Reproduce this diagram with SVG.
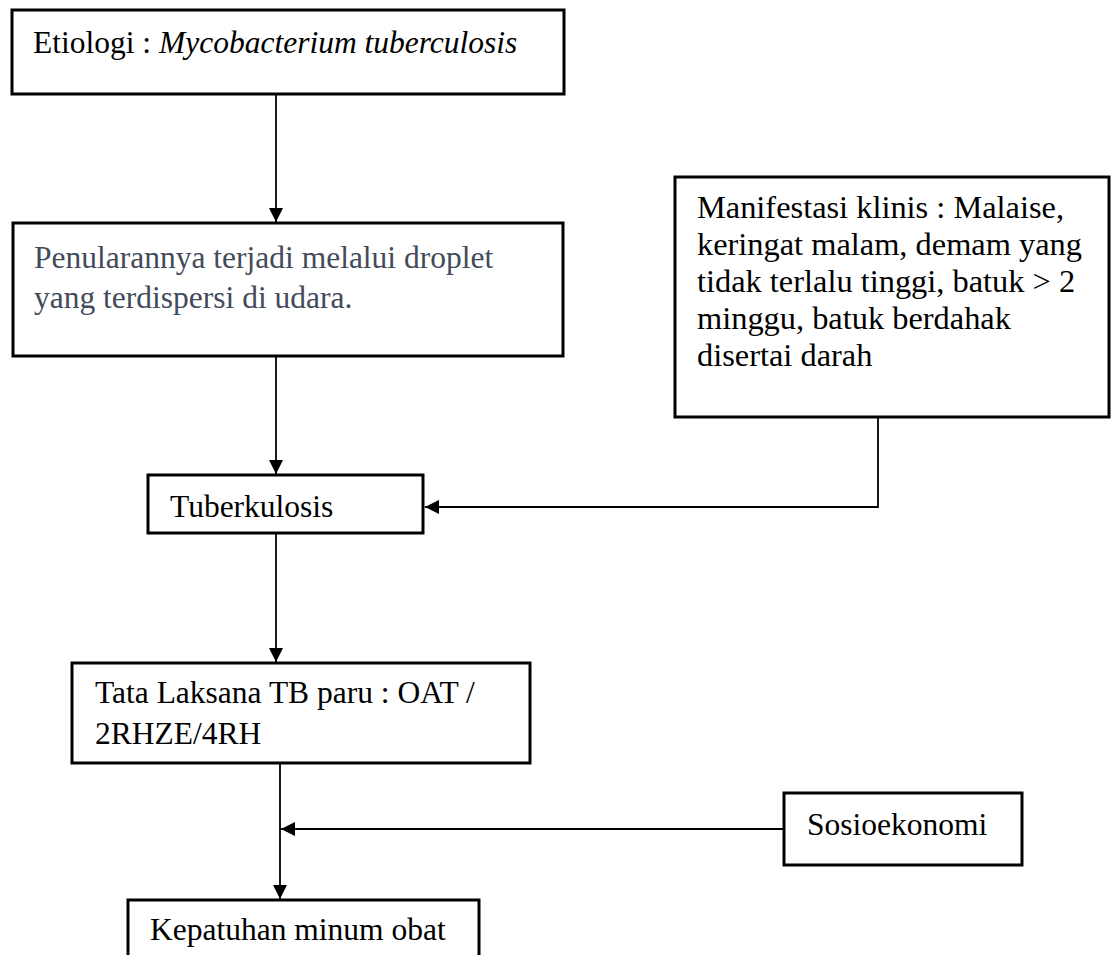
<svg xmlns="http://www.w3.org/2000/svg" width="1112" height="955" viewBox="0 0 1112 955">
<style>
.box{fill:#fff;stroke:#000;stroke-width:3}
.t{font-family:"Liberation Serif","Times New Roman",serif;font-size:31.5px;fill:#000}
.m{font-size:32.4px}
.slate{fill:#434b5b}
.c{fill:none;stroke:#000;stroke-width:1.8}
</style>
<defs>
<marker id="ah" markerWidth="14" markerHeight="14" viewBox="0 0 14 14" refX="14" refY="7" orient="auto" markerUnits="userSpaceOnUse">
<path d="M0,0 L14,7 L0,14 Z" fill="#000"/>
</marker>
</defs>
<rect width="1112" height="955" fill="#fff"/>
<g id="connectors">
<line class="c" x1="276" y1="94" x2="276" y2="222" marker-end="url(#ah)"/>
<line class="c" x1="276" y1="356" x2="276" y2="474" marker-end="url(#ah)"/>
<polyline class="c" points="878,417 878,507 425,507" marker-end="url(#ah)"/>
<line class="c" x1="276" y1="533" x2="276" y2="662" marker-end="url(#ah)"/>
<line class="c" x1="280" y1="763" x2="280" y2="899" marker-end="url(#ah)"/>
<line class="c" x1="784" y1="829" x2="281" y2="829" marker-end="url(#ah)"/>
</g>
<g id="etiologi">
<rect class="box" x="12" y="10" width="552" height="84"/>
<text class="t" x="33" y="53">Etiologi : <tspan font-style="italic">Mycobacterium tuberculosis</tspan></text>
</g>
<g id="penularan">
<rect class="box" x="13" y="223" width="550" height="133"/>
<text class="t slate" x="34" y="268">Penularannya terjadi melalui droplet</text>
<text class="t slate" x="34" y="308">yang terdispersi di udara.</text>
</g>
<g id="manifestasi">
<rect class="box" x="675" y="177" width="434" height="240"/>
<text class="t m" x="697" y="218">Manifestasi klinis : Malaise,</text>
<text class="t m" x="697" y="255">keringat malam, demam yang</text>
<text class="t m" x="697" y="292">tidak terlalu tinggi, batuk &gt; 2</text>
<text class="t m" x="697" y="329">minggu, batuk berdahak</text>
<text class="t m" x="697" y="366">disertai darah</text>
</g>
<g id="tuberkulosis">
<rect class="box" x="148" y="475" width="275" height="58"/>
<text class="t" x="170" y="517">Tuberkulosis</text>
</g>
<g id="tatalaksana">
<rect class="box" x="72" y="663" width="458" height="100"/>
<text class="t" x="95" y="703">Tata Laksana TB paru : OAT /</text>
<text class="t" x="95" y="744">2RHZE/4RH</text>
</g>
<g id="sosioekonomi">
<rect class="box" x="784" y="793" width="238" height="72"/>
<text class="t" x="807" y="835">Sosioekonomi</text>
</g>
<g id="kepatuhan">
<rect class="box" x="128" y="900" width="351" height="80"/>
<text class="t" x="150" y="940">Kepatuhan minum obat</text>
</g>
</svg>
